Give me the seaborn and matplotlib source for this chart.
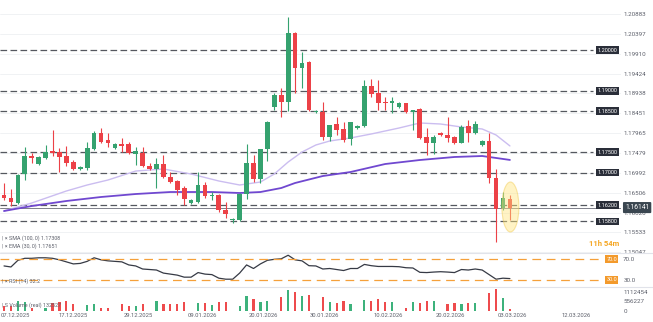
import numpy as np
import pandas as pd
import matplotlib
matplotlib.use("Agg")
import matplotlib.pyplot as plt
from matplotlib.patches import Ellipse
from matplotlib.lines import Line2D
import matplotlib.transforms as mtransforms
import seaborn as sns

# ---------------- data ----------------
opens = [1.16449, 1.16375, 1.16253, 1.16963, 1.17404, 1.17208, 1.17355, 1.17527, 1.17502, 1.17404,
         1.17257, 1.17086, 1.17110, 1.17576, 1.17968, 1.17796, 1.17600, 1.17698, 1.17698, 1.17453,
         1.17478, 1.17159, 1.17086, 1.17208, 1.16890, 1.16792, 1.16620, 1.16253, 1.16277, 1.16694,
         1.16424, 1.16449, 1.16081, 1.15836, 1.15836, 1.16473, 1.17233, 1.16841, 1.17576, 1.18604,
         1.18899, 1.18727, 1.20418, 1.19560, 1.19707, 1.18482, 1.18482, 1.17870, 1.18188, 1.18066,
         1.17821, 1.18090, 1.18139, 1.19119, 1.18948, 1.18727, 1.18703, 1.18604, 1.18703, 1.18482,
         1.18555, 1.17870, 1.17723, 1.17968, 1.17919, 1.17870, 1.17723, 1.18139, 1.17968, 1.17674,
         1.17772, 1.16865, 1.16130, 1.16351]
highs = [1.16743, 1.16596, 1.16963, 1.17625, 1.17478, 1.17404, 1.17674, 1.18041, 1.17600, 1.17649,
         1.17306, 1.17159, 1.17747, 1.18017, 1.18090, 1.17968, 1.17723, 1.17846, 1.17747, 1.17625,
         1.17625, 1.17233, 1.17355, 1.17429, 1.17012, 1.16816, 1.16669, 1.16351, 1.17012, 1.16767,
         1.16522, 1.16473, 1.16277, 1.15885, 1.16498, 1.17698, 1.17429, 1.17576, 1.18262, 1.18948,
         1.19070, 1.20809, 1.20442, 1.19952, 1.19731, 1.18531, 1.18727, 1.18164, 1.18360, 1.18237,
         1.18237, 1.18164, 1.19266, 1.19291, 1.19266, 1.18850, 1.18850, 1.18727, 1.18703, 1.18531,
         1.18580, 1.18090, 1.17919, 1.17992, 1.18360, 1.17894, 1.18164, 1.18286, 1.18262, 1.17796,
         1.17968, 1.17086, 1.16522, 1.16449]
lows = [1.16326, 1.16179, 1.16228, 1.16816, 1.17233, 1.17184, 1.17331, 1.17404, 1.17012, 1.17159,
        1.17061, 1.17061, 1.17061, 1.17551, 1.17723, 1.17625, 1.17576, 1.17502, 1.17453, 1.17184,
        1.17135, 1.17061, 1.16620, 1.16865, 1.16743, 1.16449, 1.16204, 1.16228, 1.16253, 1.16375,
        1.16326, 1.16032, 1.15885, 1.15763, 1.15812, 1.16351, 1.16767, 1.16743, 1.17282, 1.18531,
        1.18360, 1.18506, 1.18948, 1.19070, 1.18506, 1.18457, 1.17796, 1.17772, 1.17919, 1.17747,
        1.17674, 1.18066, 1.18115, 1.18850, 1.18531, 1.18531, 1.18457, 1.18580, 1.18457, 1.18041,
        1.17821, 1.17429, 1.17453, 1.17894, 1.17747, 1.17698, 1.17723, 1.17747, 1.17944, 1.17649,
        1.16743, 1.15297, 1.16081, 1.15836]
closes = [1.16375, 1.16277, 1.16939, 1.17404, 1.17355, 1.17380, 1.17502, 1.17478, 1.17380, 1.17233,
          1.17086, 1.17135, 1.17600, 1.17968, 1.17747, 1.17723, 1.17698, 1.17649, 1.17478, 1.17527,
          1.17159, 1.17086, 1.17208, 1.16890, 1.16767, 1.16571, 1.16351, 1.16326, 1.16694, 1.16424,
          1.16449, 1.16081, 1.15983, 1.15861, 1.16473, 1.17233, 1.16841, 1.17576, 1.18237, 1.18899,
          1.18727, 1.20418, 1.19560, 1.19683, 1.18531, 1.18506, 1.17870, 1.18164, 1.18041, 1.17796,
          1.18237, 1.18139, 1.19119, 1.18923, 1.18703, 1.18703, 1.18752, 1.18703, 1.18482, 1.18531,
          1.17846, 1.17723, 1.17870, 1.17919, 1.17846, 1.17723, 1.18115, 1.17968, 1.18188, 1.17772,
          1.16865, 1.16106, 1.16375, 1.16141]
volumes = [300000, 300000, 585000, 527000, 200000, 25000, 200000, 468000, 527000, 585000,
           410000, 25000, 351000, 410000, 176000, 176000, 25000, 410000, 293000, 293000,
           410000, 25000, 585000, 410000, 410000, 410000, 527000, 25000, 468000, 468000,
           351000, 527000, 527000, 25000, 293000, 878000, 703000, 527000, 585000, 25000,
           820000, 1230000, 1112000, 878000, 937000, 25000, 820000, 527000, 468000, 585000,
           410000, 25000, 644000, 585000, 703000, 527000, 527000, 25000, 176000, 527000,
           468000, 585000, 585000, 25000, 410000, 468000, 410000, 468000, 468000, 25000,
           1054000, 1288000, 761000, 132527]
rsi = [57, 55, 68, 72, 72, 73, 73, 72, 69, 65,
       61, 62, 66, 73, 69, 67, 66, 65, 59, 57,
       51, 50, 49, 43, 41, 39, 35, 35, 44, 41,
       40, 33, 31, 31, 43, 59, 52, 61, 68, 70,
       71, 78, 69, 67, 57.5, 57, 51, 52, 50, 48,
       52, 52, 60, 57.5, 56, 56, 56, 55.5, 53.5, 53,
       44.5, 44, 45, 45.7, 45, 44, 50, 49, 51, 49,
       40, 31, 33, 32.2]
sma100_idx = [0, 4, 9, 14, 19, 24, 30, 34, 37, 40, 42, 46, 50, 55, 60, 65, 69, 73]
sma100_val = [1.16057, 1.16179, 1.16302, 1.16400, 1.16473, 1.16522, 1.16522, 1.16498, 1.16522,
              1.16620, 1.16743, 1.16914, 1.17012, 1.17208, 1.17306, 1.17380, 1.17404, 1.17308]
ema30_idx = [0, 4, 9, 12, 15, 19, 23, 27, 31, 34, 37, 39, 41, 43, 45, 47, 50, 53, 57, 60, 63, 66, 69, 71, 73]
ema30_val = [1.16057, 1.16253, 1.16547, 1.16694, 1.16816, 1.17036, 1.17086, 1.16963, 1.16792,
             1.16694, 1.16767, 1.16963, 1.17257, 1.17502, 1.17674, 1.17772, 1.17846, 1.17944,
             1.18090, 1.18213, 1.18188, 1.18115, 1.18066, 1.17919, 1.17651]
levels = [1.20000, 1.19000, 1.18500, 1.17500, 1.17000, 1.16200, 1.15800]
level_labels = ["1.20000", "1.19000", "1.18500", "1.17500", "1.17000", "1.16200", "1.15800"]
price_ticks = [1.20883, 1.20397, 1.19910, 1.19424, 1.18938, 1.18451, 1.17965,
               1.17479, 1.16992, 1.16506, 1.16020, 1.15533, 1.15047]
rsi_levels = [70, 30]
vol_ticks = [0, 556227, 1112454]
date_labels = ["07.12.2025", "17.12.2025", "29.12.2025", "09.01.2026", "20.01.2026",
               "30.01.2026", "10.02.2026", "20.02.2026", "03.03.2026", "12.03.2026"]
date_pos = [-0.5, 10, 19.3, 28.6, 37.4, 46.3, 55.4, 64.4, 73.4, 82.5]
last_price = 1.16141

# ---------------- style ----------------
sns.set_style("white")
plt.rcParams["font.family"] = ["Roboto", "DejaVu Sans"]

GREEN = "#35a26f"
RED = "#ec4147"
GREY_TXT = "#5d606b"
W, H = 653, 322

fig = plt.figure(figsize=(W / 100, H / 100), dpi=100)


def axes_px(top, bottom, right=621):
    return fig.add_axes([0, (H - bottom) / H, right / W, (bottom - top) / H])


ax = axes_px(0, 253)
ax_rsi = axes_px(253, 287)
ax_vol = axes_px(287, 311)

XL = (-0.58, 89.03)
n = len(opens)
idx = np.arange(n)
o = np.array(opens)
c = np.array(closes)
up = c >= o
cols = np.where(up, GREEN, RED)

# ---------------- price panel ----------------
ax.set_xlim(*XL)
ax.set_ylim(1.15028, 1.21226)
for t in price_ticks:
    ax.axhline(t, color="#eef0f3", lw=0.6, zorder=0)

ax.vlines(idx, lows, highs, colors=cols, lw=0.8, zorder=3)
body_h = np.maximum(np.abs(c - o), 0.00020)
ax.bar(idx, body_h, bottom=np.minimum(o, c), width=0.68, color=cols, linewidth=0, zorder=4)

sns.lineplot(x=ema30_idx, y=ema30_val, ax=ax, color="#cbbdf0", lw=1.0, zorder=2)
sns.lineplot(x=sma100_idx, y=sma100_val, ax=ax, color="#7048d0", lw=1.3, zorder=2)

ax.hlines(levels, XL[0], 85.0, colors="#55585f", lw=0.9, linestyles=(0, (5.3, 2.7)), zorder=1)
for lv, lab in zip(levels, level_labels):
    ax.text(87.1, lv, lab, ha="center", va="center", fontsize=4.0, color="white", zorder=6,
            bbox=dict(boxstyle="square,pad=0.25", fc="#2a2e39", ec="none"))

ax.axhline(last_price, color="#7d808a", lw=0.7, zorder=1)

ell = Ellipse((73.07, 1.16155), 2.45, 0.01225, fc="#ffe680", ec="#f0c848", lw=0.8,
              alpha=0.45, zorder=5)
ax.add_patch(ell)

ax.text(86.6, 1.15272, "11h 54m", ha="center", va="center", fontsize=5.6,
        color="#f5a623", fontweight="bold")

ax.text(0.003, 0.0593, "| \u00d7 SMA (100, 0) 1.17308", transform=ax.transAxes,
        fontsize=3.9, color=GREY_TXT, va="center", ha="left")
ax.text(0.003, 0.0277, "| \u00d7 EMA (30, 0) 1.17651", transform=ax.transAxes,
        fontsize=3.9, color=GREY_TXT, va="center", ha="left")

ax.yaxis.tick_right()
ax.set_yticks(price_ticks)
ax.set_yticklabels([f"{t:.5f}" for t in price_ticks])
ax.tick_params(axis="y", length=0, pad=1.6, labelsize=4.5, labelcolor=GREY_TXT)
ax.set_xticks([])
ax.set_xlabel("")
ax.set_ylabel("")
for s in ax.spines.values():
    s.set_visible(False)

trans = mtransforms.blended_transform_factory(ax.transAxes, ax.transData)
ax.text(1.0 + 4 / 621, last_price, "1.16141", transform=trans, ha="left", va="center",
        fontsize=4.9, color="white", zorder=10, clip_on=False,
        bbox=dict(boxstyle="round,pad=0.3,rounding_size=0.15", fc="#3a4650", ec="none"))

# ---------------- RSI panel ----------------
ax_rsi.set_xlim(*XL)
ax_rsi.set_ylim(15.7, 82.4)
sns.lineplot(x=idx, y=rsi, ax=ax_rsi, color="#363a45", lw=0.9)
ax_rsi.hlines(rsi_levels, XL[0], 86.0, colors="#f5a03a", lw=0.9, linestyles=(0, (7, 4.5)))
for lv in rsi_levels:
    ax_rsi.text(87.7, lv, f"{lv:.1f}", ha="center", va="center", fontsize=4.0, color="white",
                bbox=dict(boxstyle="square,pad=0.25", fc="#f39a2c", ec="none"))
ax_rsi.text(0.003, 0.16, "| \u00d7 RSI (14) 32.2", transform=ax_rsi.transAxes,
            fontsize=3.9, color=GREY_TXT, va="center", ha="left")
ax_rsi.yaxis.tick_right()
ax_rsi.set_yticks(rsi_levels)
ax_rsi.set_yticklabels([f"{v:.1f}" for v in rsi_levels])
ax_rsi.tick_params(axis="y", length=0, pad=1.6, labelsize=4.5, labelcolor=GREY_TXT)
ax_rsi.set_xticks([])
ax_rsi.set_xlabel("")
ax_rsi.set_ylabel("")
for s in ax_rsi.spines.values():
    s.set_visible(False)

# ---------------- volume panel ----------------
ax_vol.set_xlim(*XL)
ax_vol.set_ylim(0, 1.405e6)
vol_cols = np.where(up, "#3db27c", "#ee4b4d")
ax_vol.bar(idx, volumes, width=0.32, color=vol_cols, linewidth=0)
ax_vol.text(0.003, 0.25, "| S Volume (real) 132527", transform=ax_vol.transAxes,
            fontsize=3.9, color=GREY_TXT, va="center", ha="left")
ax_vol.yaxis.tick_right()
ax_vol.set_yticks(vol_ticks)
ax_vol.set_yticklabels([str(v) for v in vol_ticks])
ax_vol.tick_params(axis="y", length=0, pad=1.6, labelsize=4.5, labelcolor=GREY_TXT)
ax_vol.set_xticks(date_pos)
ax_vol.set_xticklabels(date_labels)
ax_vol.tick_params(axis="x", length=0, pad=1.2, labelsize=4.2, labelcolor=GREY_TXT)
ax_vol.get_xticklabels()[0].set_horizontalalignment("left")
ax_vol.set_xlabel("")
ax_vol.set_ylabel("")
for s in ax_vol.spines.values():
    s.set_visible(False)

# panel separators across full width
for yp in (253, 287):
    fig.add_artist(Line2D([0, 1], [(H - yp) / H] * 2, color="#e1e3ea", lw=0.8,
                          transform=fig.transFigure))

fig.savefig("out.png", dpi=100)
